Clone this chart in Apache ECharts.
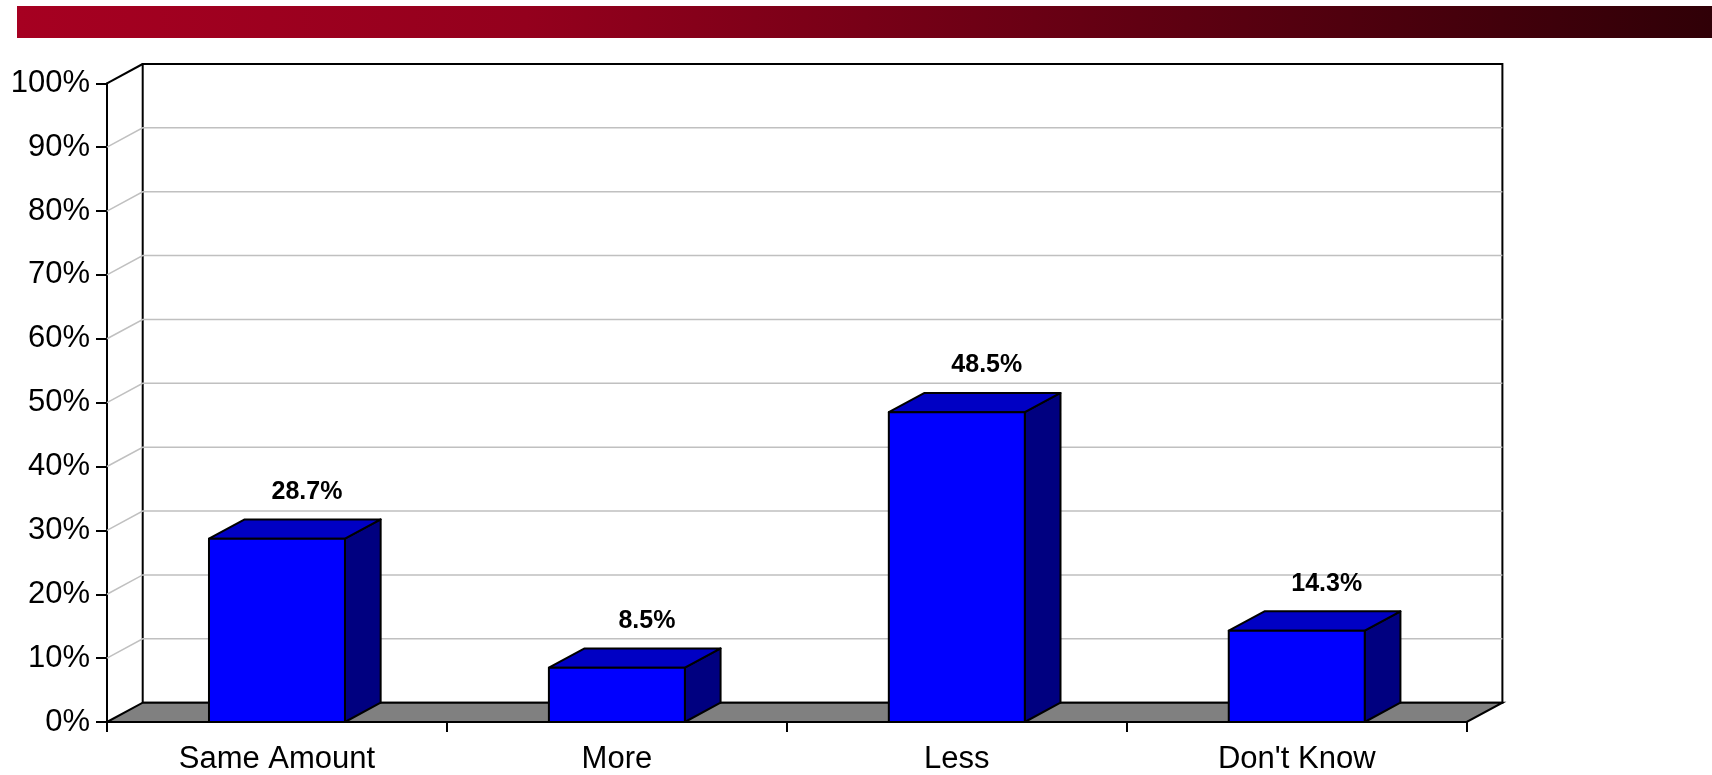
<!DOCTYPE html>
<html>
<head>
<meta charset="utf-8">
<script src="https://cdn.jsdelivr.net/npm/echarts@6/dist/echarts.min.js"></script>
<style>
html,body{margin:0;padding:0;background:#fff;}
#chart{width:1712px;height:775px;}
</style>
</head>
<body>
<div id="chart"></div>
<script>
// ---- data ----
const categories = ['Same Amount', 'More', 'Less', "Don't Know"];
const values = [28.7, 8.5, 48.5, 14.3];
const valueLabels = ['28.7%', '8.5%', '48.5%', '14.3%'];
const yTicks = [0, 10, 20, 30, 40, 50, 60, 70, 80, 90, 100];

// ---- style constants ----
const FONT = '"Liberation Sans", Arial, sans-serif';
const DX = 35.7, DY = -19.3;       // 3D depth offset
const BAR_RATIO = 0.4;

const chart = echarts.init(document.getElementById('chart'), null, {renderer: 'canvas'});

function frameItem(params, api) {
  const cs = params.coordSys;
  const v = api.value(1);
  const y = api.coord([0, v])[1];
  const x0 = cs.x, x1 = cs.x + cs.width;
  const children = [];
  if (params.dataIndex === 0) {
    const yTop = cs.y, yBot = cs.y + cs.height;
    children.push({type: 'rect', shape: {x: x0 + DX, y: yTop + DY, width: cs.width, height: cs.height},
      style: {fill: '#fff', stroke: '#000', lineWidth: 2}});
    children.push({type: 'polygon', shape: {points: [[x0, yBot], [x0 + DX, yBot + DY], [x1 + DX, yBot + DY], [x1, yBot]]},
      style: {fill: '#808080', stroke: '#000', lineWidth: 2}});
    children.push({type: 'line', shape: {x1: x0, y1: yTop, x2: x0 + DX, y2: yTop + DY},
      style: {stroke: '#000', lineWidth: 2}});
  } else if (v < 100) {
    children.push({type: 'polyline', shape: {points: [[x0, y], [x0 + DX, y + DY], [x1 + DX, y + DY]]},
      style: {stroke: '#c0c0c0', lineWidth: 1.5, fill: null}});
  }
  return {type: 'group', children: children};
}

function barItem(params, api) {
  const idx = api.value(0);
  const c = api.coord([idx, api.value(1)]);
  const b = api.coord([idx, 0]);
  const bw = api.size([1, 0])[0] * BAR_RATIO;
  const xl = c[0] - bw / 2, xr = c[0] + bw / 2, yt = c[1], yb = b[1];
  const line = {stroke: '#000', lineWidth: 2, lineJoin: 'round'};
  return {type: 'group', children: [
    {type: 'polygon', shape: {points: [[xr, yt], [xr + DX, yt + DY], [xr + DX, yb + DY], [xr, yb]]},
      style: Object.assign({fill: '#000080'}, line)},
    {type: 'polygon', shape: {points: [[xl, yt], [xl + DX, yt + DY], [xr + DX, yt + DY], [xr, yt]]},
      style: Object.assign({fill: '#0000C4'}, line)},
    {type: 'rect', shape: {x: xl, y: yt, width: bw, height: yb - yt},
      style: Object.assign({fill: '#0000FF'}, line)},
    {type: 'text', x: c[0] + 30, y: yt - 47,
      style: {text: valueLabels[params.dataIndex], fill: '#000', font: 'bold 25px ' + FONT,
        textAlign: 'center', textVerticalAlign: 'middle'}}
  ]};
}

chart.setOption({
  animation: false,
  graphic: [{
    type: 'rect', left: 17, top: 6, shape: {width: 1695, height: 32},
    style: {fill: new echarts.graphic.LinearGradient(0, 0, 1, 0, [
      {offset: 0, color: '#a60021'}, {offset: 0.3, color: '#94001d'},
      {offset: 0.6, color: '#6a0014'}, {offset: 1, color: '#300007'}])},
    silent: true
  }],
  grid: {left: 107, right: 245.3, top: 83.3, bottom: 51.7},
  xAxis: {
    type: 'category', data: categories, boundaryGap: true,
    axisLine: {show: true, lineStyle: {color: '#000', width: 2}},
    axisTick: {show: true, length: 10, interval: 0, lineStyle: {color: '#000', width: 2}},
    axisLabel: {fontSize: 31, color: '#000', fontFamily: FONT, margin: 22, interval: 0},
    splitLine: {show: false}
  },
  yAxis: {
    type: 'value', min: 0, max: 100, interval: 10,
    axisLine: {show: true, lineStyle: {color: '#000', width: 2}},
    axisTick: {show: true, length: 11, lineStyle: {color: '#000', width: 2}},
    axisLabel: {fontSize: 31, color: '#000', fontFamily: FONT, margin: 17, formatter: '{value}%'},
    splitLine: {show: false}
  },
  series: [
    {type: 'custom', name: 'frame', renderItem: frameItem, clip: false, silent: true, z: 1,
      encode: {x: 0, y: 1}, data: yTicks.map(v => [0, v])},
    {type: 'custom', name: 'bars', renderItem: barItem, clip: false, z: 3,
      encode: {x: 0, y: 1}, data: values.map((v, i) => [i, v])}
  ]
});
</script>
</body>
</html>
